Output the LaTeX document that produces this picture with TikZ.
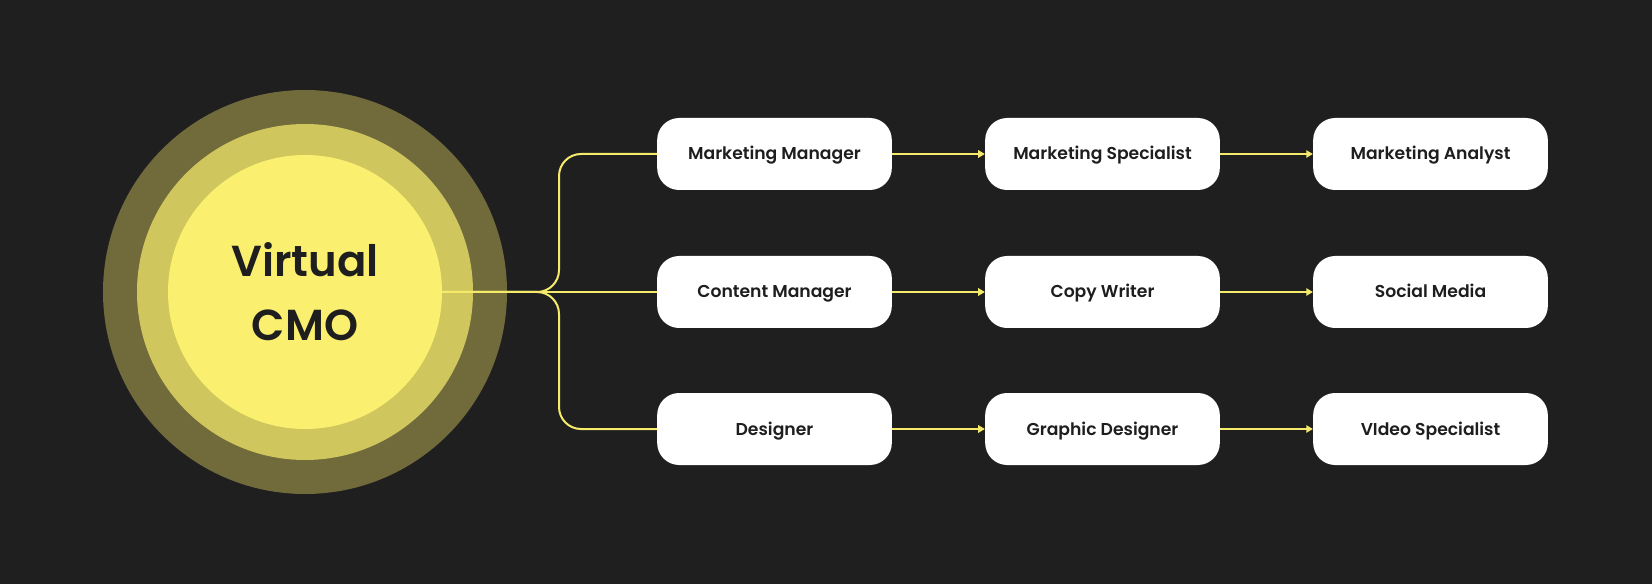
\documentclass[tikz,border=0pt]{standalone}
\usepackage{fontspec}
\setmainfont{Poppins}[UprightFont=* SemiBold]
\usetikzlibrary{arrows.meta}
\definecolor{bg}{HTML}{201F20}
\definecolor{ringA}{HTML}{716A3A}
\definecolor{ringB}{HTML}{CFC65E}
\definecolor{core}{HTML}{FAEF6E}
\definecolor{ink}{HTML}{1E1E1E}
\definecolor{wire}{HTML}{F5EA6A}
\tikzset{
  rolebox/.style={draw=none, fill=white, rounded corners=16.5pt, minimum width=176pt, minimum height=54pt, inner sep=0pt, text=ink, text height=9pt, text depth=0pt, font=\fontsize{12.9}{15}\selectfont},
  wireline/.style={draw=wire, line width=1.5pt},
  arrowline/.style={wireline, -{Triangle[length=5pt,width=5.5pt]}},
}
\begin{document}
\begin{tikzpicture}[x=0.75pt,y=-0.75pt]
\fill[bg] (0,0) rectangle (1652,584);
\useasboundingbox (0,0) rectangle (1652,584);
\node[circle, fill=ringA, minimum size=303pt, inner sep=0pt] (outer) at (305,292) {};
\node[circle, fill=ringB, minimum size=252pt, inner sep=0pt] (middle) at (305,292) {};
\node[circle, fill=core, minimum size=205.5pt, inner sep=0pt, text=ink, align=center, font=\fontsize{32.5}{48}\selectfont] (cmo) at (305,292) {Virtual\\CMO};
\node[rolebox] (mm) at (774.5,154) {Marketing Manager};
\node[rolebox] (ms) at (1102.5,154) {Marketing Specialist};
\node[rolebox] (ma) at (1430.5,154) {Marketing Analyst};
\node[rolebox] (cm) at (774.5,292) {Content Manager};
\node[rolebox] (cw) at (1102.5,292) {Copy Writer};
\node[rolebox] (sm) at (1430.5,292) {Social Media};
\node[rolebox] (de) at (774.5,429) {Designer};
\node[rolebox] (gd) at (1102.5,429) {Graphic Designer};
\node[rolebox] (vs) at (1430.5,429) {VIdeo Specialist};
\coordinate (fork) at (559,292);
\draw[wireline] (cmo.east) -- (cm.west);
\draw[wireline, rounded corners=16.5pt] (cmo.east) -- (fork) -- (fork |- mm.west) -- (mm.west);
\draw[wireline, rounded corners=16.5pt] (cmo.east) -- (fork) -- (fork |- de.west) -- (de.west);
\draw[arrowline] (mm.east) -- (ms.west);
\draw[arrowline] (ms.east) -- (ma.west);
\draw[arrowline] (cm.east) -- (cw.west);
\draw[arrowline] (cw.east) -- (sm.west);
\draw[arrowline] (de.east) -- (gd.west);
\draw[arrowline] (gd.east) -- (vs.west);
\end{tikzpicture}
\end{document}
